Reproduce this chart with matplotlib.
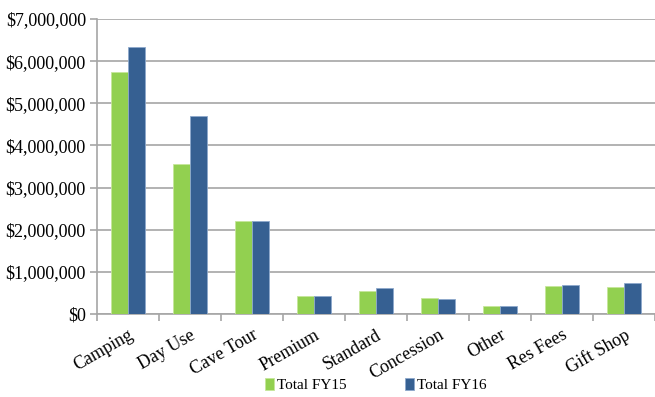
import matplotlib
matplotlib.use('Agg')
import matplotlib.pyplot as plt
import numpy as np
from matplotlib.ticker import FuncFormatter

categories = ['Camping', 'Day Use', 'Cave Tour', 'Premium', 'Standard',
              'Concession', 'Other', 'Res Fees', 'Gift Shop']
fy15 = [5740000, 3560000, 2210000, 430000, 550000, 390000, 190000, 670000, 640000]
fy16 = [6340000, 4700000, 2210000, 430000, 610000, 360000, 190000, 700000, 740000]

plt.rcParams['font.family'] = ['Liberation Serif', 'DejaVu Serif']

fig = plt.figure(figsize=(6.55, 3.97), dpi=100)
ax = fig.add_axes([97/655, 1 - 314/397, 558/655, 295/397])

x = np.arange(len(categories))
w = 0.28
ax.bar(x - w/2, fy15, w, color='#92D050', edgecolor='#C6E69A', linewidth=0.6,
       label='Total FY15', zorder=3)
ax.bar(x + w/2, fy16, w, color='#366092', edgecolor='#8DA9CC', linewidth=0.6,
       label='Total FY16', zorder=3)

ax.set_xlim(-0.5, len(categories) - 0.5)
ax.set_ylim(0, 7000000)
ax.set_yticks(np.arange(0, 7000001, 1000000))
ax.yaxis.set_major_formatter(FuncFormatter(lambda v, p: '${:,.0f}'.format(v)))
ax.grid(axis='y', color='#A6A6A6', linewidth=1.2, zorder=0)

ax.set_xticks(np.arange(-0.5, len(categories), 1.0), minor=False)
ax.set_xticklabels([])
ax.set_xticks(x, minor=True)
ax.set_xticklabels(categories, minor=True, rotation=30, ha='right',
                   rotation_mode='anchor', fontsize=13)
ax.tick_params(axis='x', which='minor', length=0, pad=9)
ax.tick_params(axis='x', which='major', length=5, color='#A6A6A6', width=1.2)
ax.tick_params(axis='y', length=5, color='#A6A6A6', width=1.2, labelsize=13, pad=3)

for s in ['top', 'right']:
    ax.spines[s].set_visible(False)
for s in ['left', 'bottom']:
    ax.spines[s].set_color('#A6A6A6')
    ax.spines[s].set_linewidth(1.2)

fig.legend(loc='center', bbox_to_anchor=(376/655, 1 - 385/397), ncol=2,
           frameon=False, fontsize=11, handlelength=0.6, handleheight=0.8,
           handletextpad=0.2, columnspacing=3.8)

fig.savefig('out.png', dpi=100)
